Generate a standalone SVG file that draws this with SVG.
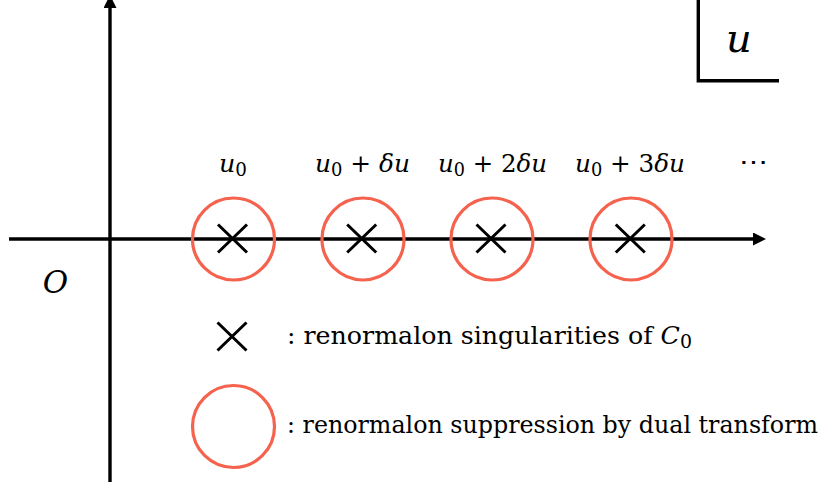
<svg xmlns="http://www.w3.org/2000/svg" xmlns:xlink="http://www.w3.org/1999/xlink" width="826" height="488" viewBox="0 0 826 488">
<style>
.ax{stroke:#000;stroke-width:3.4;fill:none}
.ring{fill:none;stroke:#f5634f;stroke-width:3.2}
.x{stroke:#000;stroke-width:3;fill:none}
text{font-family:'DejaVu Serif','Liberation Serif',serif;fill:#000}
.top{font-size:25px}
.leg{font-size:24px}
.it{font-style:italic}
.sub{font-size:18px}
</style>
<defs>
<marker id="ah" viewBox="0 0 13 13" refX="0" refY="6.5" markerWidth="13" markerHeight="13" markerUnits="userSpaceOnUse" orient="auto">
<path d="M0,0 L13,6.5 L0,13 Z" fill="#000"/>
</marker>
<path id="cross" class="x" d="M-14.5,-14 L14.5,14 M-14.5,14 L14.5,-14"/>
</defs>
<rect width="826" height="488" fill="#fff"/>
<g id="connectors">
<line class="ax" x1="9" y1="239" x2="753" y2="239" marker-end="url(#ah)"/>
<line class="ax" x1="110" y1="482" x2="110" y2="8" marker-end="url(#ah)"/>
</g>
<g id="corner">
<path class="ax" d="M698.3,0 V80.7 H779"/>
<text x="739" y="52" class="it" font-size="40" text-anchor="middle">u</text>
</g>
<g id="origin">
<text x="55.5" y="293" class="it" font-size="31" text-anchor="middle">O</text>
</g>
<g id="node-u0">
<circle class="ring" cx="233.5" cy="239" r="41"/>
<use xlink:href="#cross" href="#cross" x="232.5" y="238.5"/>
<text class="top" x="233" y="172" text-anchor="middle" textLength="28" lengthAdjust="spacingAndGlyphs"><tspan class="it">u</tspan><tspan class="sub" dy="4">0</tspan></text>
</g>
<g id="node-u1">
<circle class="ring" cx="363" cy="239" r="41"/>
<use xlink:href="#cross" href="#cross" x="361.7" y="238.5"/>
<text class="top" x="362.5" y="172" text-anchor="middle" textLength="95" lengthAdjust="spacingAndGlyphs"><tspan class="it">u</tspan><tspan class="sub" dy="4">0</tspan><tspan dy="-4"> + </tspan><tspan class="it">δu</tspan></text>
</g>
<g id="node-u2">
<circle class="ring" cx="492" cy="239" r="41"/>
<use xlink:href="#cross" href="#cross" x="491" y="238.5"/>
<text class="top" x="492.5" y="172" text-anchor="middle" textLength="109" lengthAdjust="spacingAndGlyphs"><tspan class="it">u</tspan><tspan class="sub" dy="4">0</tspan><tspan dy="-4"> + 2</tspan><tspan class="it">δu</tspan></text>
</g>
<g id="node-u3">
<circle class="ring" cx="631" cy="239" r="41"/>
<use xlink:href="#cross" href="#cross" x="630.3" y="238.5"/>
<text class="top" x="630" y="172" text-anchor="middle" textLength="110" lengthAdjust="spacingAndGlyphs"><tspan class="it">u</tspan><tspan class="sub" dy="4">0</tspan><tspan dy="-4"> + 3</tspan><tspan class="it">δu</tspan></text>
</g>
<g id="dots">
<text x="753" y="170" font-size="24" text-anchor="middle" textLength="29" lengthAdjust="spacingAndGlyphs">⋯</text>
</g>
<g id="legend-cross">
<use xlink:href="#cross" href="#cross" x="232" y="336.5"/>
<text class="leg" x="287" y="344" textLength="405" lengthAdjust="spacingAndGlyphs">: renormalon singularities of <tspan class="it">C</tspan><tspan class="sub" dy="4">0</tspan></text>
</g>
<g id="legend-circle">
<circle class="ring" cx="233.5" cy="426.5" r="41"/>
<text class="leg" x="287" y="433" textLength="531" lengthAdjust="spacingAndGlyphs">: renormalon suppression by dual transform</text>
</g>
</svg>
